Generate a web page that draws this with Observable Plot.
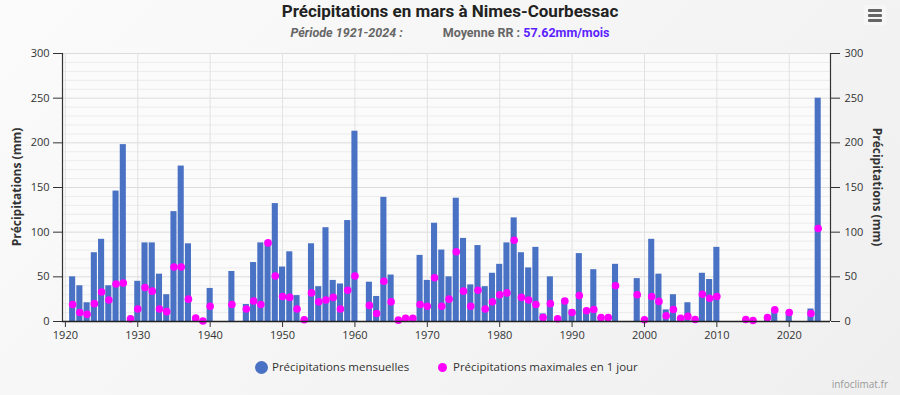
<!DOCTYPE html>
<html>
<head>
<meta charset="utf-8">
<script src="https://cdn.jsdelivr.net/npm/d3@7"></script>
<script src="https://cdn.jsdelivr.net/npm/@observablehq/plot@0.6"></script>
<style>
  html, body { margin: 0; padding: 0; }
  body {
    width: 900px; height: 395px; position: relative; overflow: hidden;
    background: linear-gradient(135deg, #fbfbfb 0%, #efefef 100%);
    font-family: "Open Sans", sans-serif; color: #333;
  }
  .abs { position: absolute; white-space: nowrap; }
  #title { top: 1px; left: 0; width: 900px; text-align: center; font: bold 17px Roboto, sans-serif; color: #222; }
  #sub { top: 25px; left: 0; width: 900px; text-align: center; font: bold 12.5px Roboto, sans-serif; color: #666; }
  #sub .p { font-style: italic; margin-right: 40px; }
  #sub .v { color: #5b1fff; }
  #chart { position: absolute; top: 40px; left: 0; }
  .ylab { font: bold 12px "Open Sans", sans-serif; color: #333; }
  #legend { top: 358px; left: 0; width: 900px; font: 11.5px "Open Sans", sans-serif; color: #333; }
  #credit { top: 377px; right: 12px; font: 10px "Open Sans", sans-serif; color: #999; }
  #menu { top: 5px; left: 864px; width: 22px; height: 20px; border-radius: 3px; background: #f7f7f7; }
  #menu div { position: absolute; left: 4px; width: 14px; height: 3px; background: #666; border-radius: 1px; }
</style>
</head>
<body>
<div id="title" class="abs">Précipitations en mars à Nimes-Courbessac</div>
<div id="sub" class="abs"><span class="p">Période 1921-2024 :</span>Moyenne RR : <span class="v">57.62mm/mois</span></div>
<div id="menu" class="abs"><div style="top:4px"></div><div style="top:9px"></div><div style="top:14px"></div></div>
<div id="chart"></div>
<div class="abs ylab" style="left:16px; top:187px; transform: translate(-50%,-50%) rotate(-90deg);">Précipitations (mm)</div>
<div class="abs ylab" style="left:877px; top:187px; transform: translate(-50%,-50%) rotate(90deg);">Précipitations (mm)</div>
<div id="legend" class="abs"></div>
<div id="credit" class="abs">infoclimat.fr</div>
<script>
const years = d3.range(1921, 2025);
// monthly precipitation (mm), null = no data
const monthly = [
  50, 40, 21, 77, 92, 40, 146, 198, 3, 45,
  88, 88, 53, 30, 123, 174, 87, 4, 0.5, 37,
  null, null, 56, null, 19, 66, 88, 90, 132, 61,
  78, 29, 2, 87, 39, 105, 46, 42, 113, 213,
  null, 44, 28, 139, 52, 1.5, 3.5, 3.5, 74, 46,
  110, 80, 50, 138, 93, 41, 85, 39, 54, 64,
  88, 116, 77, 60, 83, 8.5, 50, 3, 25, 13,
  76, 14, 58, 4.5, 4.5, 64, null, null, 48, 2,
  92, 53, 13, 30, 3.7, 21, 2.3, 54, 47, 83,
  null, null, null, 2.2, 1.2, null, 4.5, 13, null, 10,
  null, null, 14, 250
];
// maximum precipitation in one day (mm)
const daily = [
  19, 10, 8, 20, 33, 24, 42, 43, 3, 14,
  38, 34, 14, 11, 61, 61, 25, 4, 0.5, 17,
  null, null, 19, null, 14, 23, 19, 88, 51, 28,
  27, 14, 2, 32, 22, 24, 27, 14, 35, 51,
  null, 18, 9, 45, 22, 1.5, 3.5, 3.5, 19, 17,
  49, 17, 25, 78, 34, 17, 35, 14, 22, 30,
  32, 91, 27, 24, 19, 4.5, 20, 3, 23, 10,
  29, 12, 13.5, 4.5, 4.5, 40, null, null, 30, 2,
  28, 22.5, 6.5, 13.5, 3.7, 5.7, 2.3, 30.5, 26, 28,
  null, null, null, 2.2, 1.2, null, 4.5, 13, null, 10,
  null, null, 9, 104
];
const yTicks = [0, 50, 100, 150, 200, 250, 300];
const yGrid = d3.range(0, 301, 10);
const xTicks = d3.range(1920, 2021, 10);
const seriesNames = ["Précipitations mensuelles", "Précipitations maximales en 1 jour"];
const colors = ["#4a72c4", "#ff00ff"];

const rows = years.map((year, i) => ({year, monthly: monthly[i], daily: daily[i]}));
const bars = rows.filter(d => d.monthly != null);
const dots = rows.filter(d => d.daily != null);
const xDomain = [1919.6, 2025.7];

const chart = Plot.plot({
  width: 900, height: 310,
  marginLeft: 62, marginRight: 70, marginTop: 13, marginBottom: 29,
  style: {background: "transparent", fontFamily: "'Open Sans', sans-serif", fontSize: "11px", color: "#333"},
  x: {domain: xDomain, axis: null},
  y: {domain: [0, 300], axis: null},
  marks: [
    Plot.frame({fill: "#fbfbfb", stroke: null}),
    Plot.ruleY(yGrid, {stroke: d => d % 50 === 0 ? "#dcdcdc" : "#ececec", strokeWidth: 1}),
    Plot.ruleX(xTicks, {stroke: "#e2e2e2", strokeWidth: 1}),
    Plot.rectY(bars, {x1: d => d.year - 0.42, x2: d => d.year + 0.42, y: "monthly", fill: colors[0]}),
    Plot.dot(dots, {x: "year", y: "daily", r: 3.8, fill: colors[1], stroke: null}),
    Plot.ruleX([xDomain[0], xDomain[1]], {stroke: "#333", strokeWidth: 1.2}),
    Plot.ruleY([0], {stroke: "#222", strokeWidth: 1.5}),
    Plot.axisY({anchor: "left", ticks: yTicks, tickSize: 9, tickPadding: 4, label: null, stroke: "#333"}),
    Plot.axisY({anchor: "right", ticks: yTicks, tickSize: 9, tickPadding: 5, label: null, stroke: "#333"}),
    Plot.axisX({ticks: xTicks, tickFormat: d => String(d), tickSize: 6, tickPadding: 4, label: null, stroke: "#333"})
  ]
});
document.getElementById("chart").appendChild(chart);

// legend
const legend = document.getElementById("legend");
const items = [
  {name: seriesNames[0], color: colors[0], r: 6.5, cx: 261},
  {name: seriesNames[1], color: colors[1], r: 4.5, cx: 442}
];
items.forEach(it => {
  const sw = document.createElement("div");
  sw.className = "abs";
  sw.style.cssText = `left:${it.cx - it.r}px; top:${9 - it.r}px; width:${2*it.r}px; height:${2*it.r}px; border-radius:50%; background:${it.color};`;
  legend.appendChild(sw);
  const t = document.createElement("div");
  t.className = "abs";
  t.style.cssText = `left:${it.cx + 11}px; top:1px;`;
  t.textContent = it.name;
  legend.appendChild(t);
});
</script>
</body>
</html>
